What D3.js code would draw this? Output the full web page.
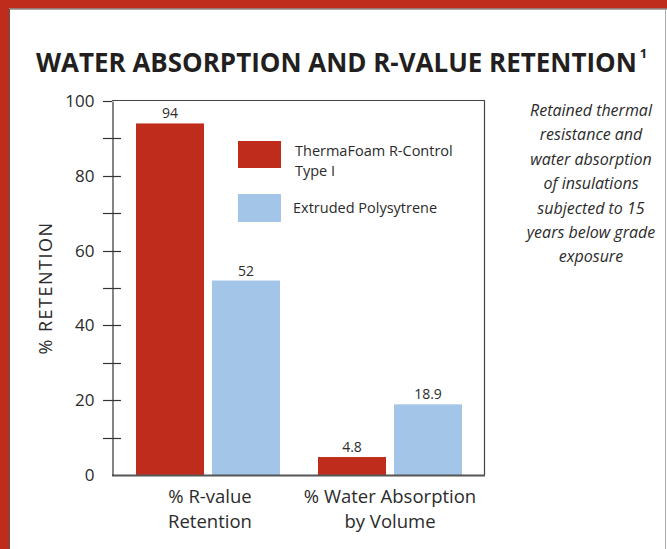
<!DOCTYPE html>
<html><head><meta charset="utf-8">
<script src="https://cdn.jsdelivr.net/npm/d3@7"></script>
<style>
html,body{margin:0;padding:0;background:#fff;}
svg{display:block;}
text{font-family:"Open Sans","Noto Sans",sans-serif;}
</style></head>
<body>
<svg id="c" width="667" height="549"></svg>
<script>
const categories = [["% R-value","Retention"],["% Water Absorption","by Volume"]];
const categoryKeys = ["rvalue","water"];
const seriesNames = ["ThermaFoam R-Control Type I","Extruded Polysytrene"];
const thermaFoam = [94, 4.8];
const extrudedPS = [52, 18.9];
const valueLabels = [["94","52"],["4.8","18.9"]];
const yTicks = [0,20,40,60,80,100];
const yMinorTicks = [10,30,50,70,90];
const title = "WATER ABSORPTION AND R-VALUE RETENTION";
const note = ["Retained thermal","resistance and","water absorption","of insulations","subjected to 15","years below grade","exposure"];

const RED = "#c02c1b", BLUE = "#a3c5e8", INK = "#2b2b2b";
const svg = d3.select("#c");

// frame
svg.append("rect").attr("x",0).attr("y",0).attr("width",667).attr("height",8.5).attr("fill",RED);
svg.append("rect").attr("x",0).attr("y",0).attr("width",9).attr("height",549).attr("fill",RED);
svg.append("line").attr("x1",9.5).attr("x2",667).attr("y1",9).attr("y2",9).attr("stroke","#555").attr("stroke-width",1);
svg.append("line").attr("x1",9.5).attr("x2",9.5).attr("y1",9).attr("y2",549).attr("stroke","#555").attr("stroke-width",1);
svg.append("line").attr("x1",665.5).attr("x2",665.5).attr("y1",9).attr("y2",549).attr("stroke","#aaa").attr("stroke-width",1);

// title (font size fitted to the reference width)
const tt = svg.append("text").attr("x",36).attr("y",72).attr("fill","#231f20")
  .attr("font-family","Lato, 'Open Sans', sans-serif").attr("font-weight",700).attr("font-size",28)
  .text(title);
const natural = tt.node().getComputedTextLength();
const fitSize = Math.min(28, 28 * 601 / natural);
tt.attr("font-size", fitSize);
const tEnd = 36 + tt.node().getComputedTextLength();
svg.append("text").attr("x",tEnd+3).attr("y",58).attr("fill","#231f20")
  .attr("font-family","Lato, 'Open Sans', sans-serif").attr("font-weight",700).attr("font-size",13).text("1");

// scales
const plotL = 112, plotR = 484, plotT = 100, plotB = 475;
const y = d3.scaleLinear().domain([0,100]).range([plotB, plotT + 1]);
const x0 = d3.scaleBand().domain(categoryKeys).range([117, 481]).padding(0);
const x1 = d3.scaleBand().domain([0,1]).range([19, 163]).paddingInner(8/76).paddingOuter(0);

// bars
const data = categoryKeys.map((k,i)=>({k, vals:[thermaFoam[i], extrudedPS[i]], labels: valueLabels[i]}));
const g = svg.append("g");
data.forEach(d=>{
  d.vals.forEach((v,j)=>{
    g.append("rect").attr("x", x0(d.k)+x1(j)).attr("y", y(v)).attr("width", x1.bandwidth())
      .attr("height", y(0)-y(v)).attr("fill", j===0?RED:BLUE);
    g.append("text").attr("x", x0(d.k)+x1(j)+x1.bandwidth()/2).attr("y", y(v)-5)
      .attr("text-anchor","middle").attr("font-size",14).attr("fill",INK).text(d.labels[j]);
  });
});

// axes frame
svg.append("line").attr("x1",plotL).attr("x2",plotR).attr("y1",plotT+0.5).attr("y2",plotT+0.5).attr("stroke","#444").attr("stroke-width",1.2);
svg.append("line").attr("x1",plotR+0.5).attr("x2",plotR+0.5).attr("y1",plotT).attr("y2",plotB).attr("stroke","#444").attr("stroke-width",1.2);
svg.append("line").attr("x1",plotL).attr("x2",plotR+1).attr("y1",plotB+0.5).attr("y2",plotB+0.5).attr("stroke","#555").attr("stroke-width",2);

const yAxis = d3.axisLeft(y).tickValues(yTicks).tickSize(0).tickPadding(18);
const ya = svg.append("g").attr("transform",`translate(${plotL+0.5},0)`).call(yAxis);
ya.select(".domain").attr("stroke","#333").attr("stroke-width",1.2);
ya.selectAll("text").attr("font-size",17).attr("fill",INK).attr("font-family","'Open Sans',sans-serif");
// crossing ticks
const allTicks = yTicks.filter(v=>v>0).concat(yMinorTicks);
svg.append("g").selectAll("line").data(allTicks).join("line")
  .attr("x1",103).attr("x2",d=>d===100?plotL:121)
  .attr("y1",d=>Math.round(y(d))+0.5).attr("y2",d=>Math.round(y(d))+0.5)
  .attr("stroke","#333").attr("stroke-width",1.2);

// y label
svg.append("text").attr("transform","translate(52,288) rotate(-90)").attr("text-anchor","middle")
  .attr("font-size",18).attr("letter-spacing",1.5).attr("fill",INK).text("% RETENTION");

// x labels
categoryKeys.forEach((k,i)=>{
  categories[i].forEach((line,li)=>{
    svg.append("text").attr("x", x0(k)+x0.bandwidth()/2+ (i===0?2:0)).attr("y", 503 + li*25)
      .attr("text-anchor","middle").attr("font-size",18.5).attr("fill",INK).text(line);
  });
});

// legend
const lg = svg.append("g");
lg.append("rect").attr("x",238).attr("y",141).attr("width",43).attr("height",27).attr("fill",RED);
lg.append("text").attr("x",295).attr("y",156).attr("font-size",14.5).attr("fill",INK).text("ThermaFoam R-Control");
lg.append("text").attr("x",295).attr("y",176).attr("font-size",14.5).attr("fill",INK).text("Type I");
lg.append("rect").attr("x",238).attr("y",194).attr("width",43).attr("height",28).attr("fill",BLUE);
lg.append("text").attr("x",293).attr("y",213).attr("font-size",14.5).attr("fill",INK).text("Extruded Polysytrene");

// note
svg.append("g").selectAll("text").data(note).join("text")
  .attr("x",591).attr("y",(d,i)=>116+i*24.4).attr("text-anchor","middle")
  .attr("font-size",16).attr("font-style","italic").attr("fill",INK).text(d=>d);
</script>
</body></html>
